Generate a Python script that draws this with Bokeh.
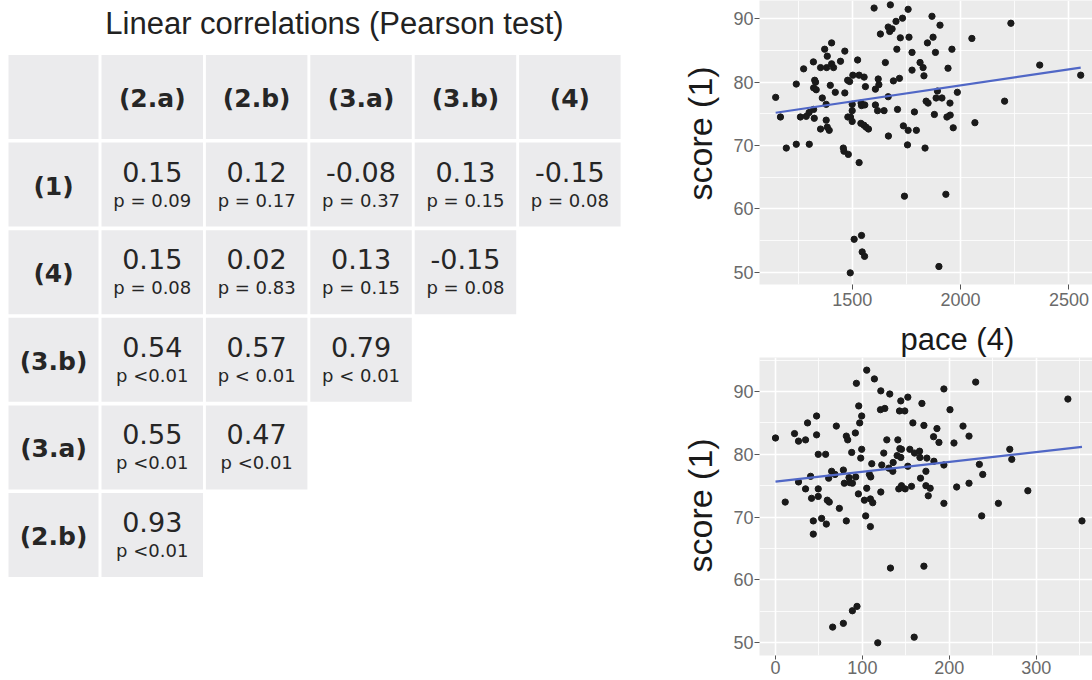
import numpy as np
from bokeh.plotting import figure
from bokeh.layouts import row, column
from bokeh.models import Range1d, FixedTicker, Title
from bokeh.core.properties import value
from bokeh.embed import file_html
from bokeh.resources import INLINE

# ---------------- data ----------------
table_title = "Linear correlations (Pearson test)"
col_labels = ["(2.a)", "(2.b)", "(3.a)", "(3.b)", "(4)"]
row_labels = ["(1)", "(4)", "(3.b)", "(3.a)", "(2.b)"]

r_row1 = [0.15, 0.12, -0.08, 0.13, -0.15]
r_row2 = [0.15, 0.02, 0.13, -0.15]
r_row3 = [0.54, 0.57, 0.79]
r_row4 = [0.55, 0.47]
r_row5 = [0.93]

p_row1 = ["p = 0.09", "p = 0.17", "p = 0.37", "p = 0.15", "p = 0.08"]
p_row2 = ["p = 0.08", "p = 0.83", "p = 0.15", "p = 0.08"]
p_row3 = ["p <0.01", "p < 0.01", "p < 0.01"]
p_row4 = ["p <0.01", "p <0.01"]
p_row5 = ["p <0.01"]

top_x = [1147, 1169, 1196, 1242, 1242, 1261, 1276, 1288, 1301, 1302,
         1321, 1322, 1325, 1327, 1331, 1322, 1334, 1354, 1354, 1362,
         1373, 1380, 1382, 1380, 1385, 1385, 1394, 1399, 1405, 1405,
         1414, 1422, 1446, 1459, 1462, 1466, 1466, 1479, 1480, 1488,
         1482, 1492, 1500, 1500, 1500, 1503, 1509, 1491, 1525, 1532,
         1532, 1541, 1543, 1543, 1546, 1555, 1557, 1558, 1561, 1540,
         1554, 1564, 1575, 1601, 1607, 1607, 1617, 1620, 1623, 1630,
         1647, 1653, 1666, 1667, 1666, 1673, 1676, 1684, 1690, 1702,
         1706, 1709, 1718, 1722, 1732, 1736, 1741, 1755, 1758, 1758,
         1762, 1776, 1776, 1787, 1796, 1813, 1827, 1831, 1836, 1841,
         1847, 1850, 1868, 1905, 1873, 1884, 1960, 1942, 2052, 2232,
         2365, 2554, 1893, 1887, 1914, 1951, 1985, 2203, 1879, 1937,
         1952, 1966, 2066, 1932, 1900]
top_y = [77.6, 74.5, 69.6, 79.7, 70.2, 74.5, 82.1, 74.6, 75.2, 70.2,
         83.2, 75.7, 74.3, 80.3, 80.0, 79.1, 78.8, 82.3, 72.6, 77.5,
         85.2, 74.0, 82.3, 76.5, 84.1, 72.9, 72.4, 79.5, 86.2, 82.9,
         82.3, 78.4, 83.3, 69.6, 69.1, 84.9, 78.3, 80.3, 74.5, 80.1,
         68.6, 74.5, 73.8, 75.5, 76.5, 81.1, 55.2, 49.9, 83.5, 67.3,
         81.1, 76.7, 55.8, 76.3, 53.2, 80.8, 52.5, 76.4, 79.3, 73.5,
         73.2, 72.9, 72.6, 91.7, 78.9, 76.4, 75.5, 80.5, 79.6, 87.6,
         75.5, 83.1, 77.7, 71.5, 88.7, 88.0, 92.2, 88.4, 80.2, 89.6,
         85.2, 75.7, 80.6, 87.0, 90.1, 73.1, 62.0, 70.1, 72.4, 91.5,
         87.1, 84.7, 81.9, 75.3, 72.4, 83.1, 82.3, 81.0, 69.6, 77.0,
         86.2, 76.7, 90.4, 89.0, 87.1, 84.7, 85.2, 82.2, 86.9, 89.3,
         82.7, 81.1, 78.6, 77.5, 77.5, 76.7, 78.4, 77.0, 74.9, 74.5,
         74.8, 72.8, 73.6, 62.3, 50.9]

bot_x = [0, 11.2, 21.9, 26.5, 26.5, 34.6, 34.6, 36.9, 40.4, 41.5,
         43.5, 43.5, 47.3, 47.3, 49.2, 49.2, 49.2, 53.1, 57.7, 58.5,
         59.6, 61.2, 61.9, 64.6, 68.5, 70.0, 65.8, 73.5, 78.1, 79.2,
         81.5, 83.1, 81.5, 78.1, 84.6, 85.4, 87.7, 88.5, 88.5, 92.3,
         91.9, 93.1, 93.8, 95.8, 96.9, 98.1, 99.2, 99.2, 95.4, 102.3,
         103.8, 105, 105, 109.2, 109.2, 109.6, 108.1, 110.8, 111.9, 113.8,
         117.7, 121.2, 120.8, 122.3, 121.2, 124.6, 125.8, 128.1, 131.5, 132.3,
         130.4, 135, 135.4, 140, 140.8, 141.9, 142.7, 143.1, 144.2, 144.2,
         145, 145, 148.8, 149.2, 152.3, 152.3, 154.6, 156.5, 158.1, 159.6,
         160, 165.8, 166.2, 166.9, 168.5, 170.8, 170.8, 173.1, 173.1, 174.2,
         175.8, 178.0, 185.8, 181.9, 188.1, 182.3, 193.8, 200.8, 193.8, 205.4,
         215.8, 222.7, 230.4, 193.8, 208.5, 222.7, 234.6, 238.5, 237.3, 256.5,
         269.6, 271.9, 290.4, 336.5, 352.7]
bot_y = [82.6, 72.4, 83.3, 82.1, 75.6, 82.3, 74.5, 85.0, 76.5, 73.0,
         69.4, 67.3, 86.1, 83.1, 80.0, 74.5, 73.3, 69.8, 80.0, 68.9,
         72.7, 76.2, 72.4, 77.3, 76.8, 84.5, 52.5, 71.4, 77.5, 75.4,
         82.9, 82.3, 69.4, 53.1, 76.3, 75.5, 80.3, 75.4, 55.1, 76.4,
         83.4, 91.3, 55.8, 87.7, 85.0, 79.4, 86.1, 80.8, 73.7, 72.7,
         70.2, 74.6, 93.4, 72.9, 68.5, 76.4, 76.8, 78.5, 72.3, 92.0,
         50.0, 90.1, 87.1, 78.3, 74.0, 80.2, 87.3, 82.3, 89.6, 61.9,
         77.8, 77.3, 78.7, 79.8, 82.3, 74.5, 86.9, 80.9, 88.5, 79.5,
         80.8, 75.0, 86.9, 74.5, 89.1, 78.1, 80.8, 74.9, 85.0, 50.9,
         80.2, 80.5, 79.5, 76.2, 88.1, 84.6, 62.2, 77.3, 75.0, 79.4,
         73.4, 74.6, 84.1, 82.8, 81.9, 78.9, 90.4, 87.1, 78.3, 81.8,
         84.5, 82.9, 91.5, 72.2, 74.8, 75.4, 78.4, 76.8, 70.2, 72.2,
         80.8, 79.2, 74.2, 88.8, 69.4]

y_ticks = [50, 60, 70, 80, 90]
y_minor = [45, 55, 65, 75, 85, 95]
top_x_ticks = [1500, 2000, 2500]
top_x_minor = [1250, 1750, 2250]
bot_x_ticks = [0, 100, 200, 300]
bot_x_minor = [50, 150, 250, 350]

x_title = "pace (4)"
y_title = "score (1)"

# ---------------- table ----------------
W, H = 1092, 680
TW = 660
t = figure(width=TW, height=H, x_range=Range1d(0, TW), y_range=Range1d(H, 0),
           output_backend="svg", toolbar_location=None, x_axis_type=None,
           y_axis_type=None, min_border=0, outline_line_color=None, title=None)
t.grid.visible = False

CELL = "#EBEBED"
TXT = "#262626"
col0 = (8, 98)
cell_left = [101 + k * 104.4 for k in range(5)]
cell_w = 101.5
row_top = [54.5 + r * 87.6 for r in range(6)]
cell_h = 84

r_rows = [r_row1, r_row2, r_row3, r_row4, r_row5]
p_rows = [p_row1, p_row2, p_row3, p_row4, p_row5]

L, R, T, B = [], [], [], []
def add_cell(l, r, tp):
    L.append(l); R.append(r); T.append(tp); B.append(tp + cell_h)

add_cell(col0[0], col0[1], row_top[0])
for k in range(len(col_labels)):
    add_cell(cell_left[k], cell_left[k] + cell_w, row_top[0])
for i, vals in enumerate(r_rows):
    add_cell(col0[0], col0[1], row_top[i + 1])
    for k in range(len(vals)):
        add_cell(cell_left[k], cell_left[k] + cell_w, row_top[i + 1])
t.quad(left=L, right=R, top=T, bottom=B, fill_color=CELL, line_color=None)

hx, hy, htxt = [], [], []
for k, lab in enumerate(col_labels):
    hx.append(cell_left[k] + cell_w / 2); hy.append(row_top[0] + cell_h / 2 + 1.5); htxt.append(lab)
for i, lab in enumerate(row_labels):
    hx.append((col0[0] + col0[1]) / 2); hy.append(row_top[i + 1] + cell_h / 2 + 1.5); htxt.append(lab)
t.text(x=hx, y=hy, text=htxt, text_font=value("DejaVu Sans"), text_font_style="bold",
       text_font_size="25px", text_align="center", text_baseline="alphabetic", text_color=TXT)

vx, vy, vtxt, px_, py_, ptxt = [], [], [], [], [], []
for i, vals in enumerate(r_rows):
    cy = row_top[i + 1] + cell_h / 2
    for k, v in enumerate(vals):
        cx = cell_left[k] + cell_w / 2
        vx.append(cx); vy.append(cy - 13); vtxt.append(f"{v:.2f}")
        px_.append(cx); py_.append(cy + 15.5); ptxt.append(p_rows[i][k])
t.text(x=vx, y=vy, text=vtxt, text_font=value("DejaVu Sans"), text_font_size="27px",
       text_align="center", text_baseline="alphabetic", text_color=TXT)
t.text(x=px_, y=py_, text=ptxt, text_font=value("DejaVu Sans"), text_font_size="18px",
       text_align="center", text_baseline="alphabetic", text_color=TXT)

t.text(x=[334], y=[23.3], text=[table_title], text_font=value("Liberation Sans"),
       text_font_size="31px", text_align="center", text_baseline="alphabetic", text_color="#222222")

# ---------------- scatter panels ----------------
PW = W - TW

def style(p, xt, xm):
    p.background_fill_color = "#EBEBEB"
    p.border_fill_color = "white"
    p.outline_line_color = None
    p.xaxis.ticker = FixedTicker(ticks=xt, minor_ticks=xm)
    p.yaxis.ticker = FixedTicker(ticks=y_ticks, minor_ticks=y_minor)
    for g in (p.xgrid, p.ygrid):
        g.grid_line_color = "white"
        g.grid_line_width = 1.6
        g.minor_grid_line_color = "white"
        g.minor_grid_line_width = 0.8
    for a in (p.xaxis, p.yaxis):
        a.axis_line_color = None
        a.major_tick_line_color = "#555555"
        a.major_tick_in = 0
        a.major_tick_out = 5
        a.minor_tick_line_color = None
        a.major_label_text_font = "Liberation Sans"
        a.major_label_text_font_size = "18px"
        a.major_label_text_color = "#6a6a6a"
    p.yaxis.major_label_standoff = 1
    p.xaxis.major_label_standoff = 3

def add_fit(p, xs, ys):
    xs = np.asarray(xs, float); ys = np.asarray(ys, float)
    b, a = np.polyfit(xs, ys, 1)
    xl = np.array([xs.min(), xs.max()])
    p.line(xl, a + b * xl, line_color="#5067C6", line_width=2.2)

def ylab(p, offset):
    tt = Title(text=y_title, align="left", offset=offset, text_font="Liberation Sans",
               text_font_size="34px", text_font_style="normal", text_color="#1a1a1a", standoff=24)
    p.add_layout(tt, "left")

H1 = 318
p1 = figure(width=PW, height=H1, x_range=Range1d(1072.4, 2608.4), y_range=Range1d(48.06, 92.89),
            output_backend="svg", toolbar_location=None, title=None,
            min_border_left=99, min_border_right=0, min_border_top=0, min_border_bottom=34)
style(p1, top_x_ticks, top_x_minor)
p1.scatter(top_x, top_y, size=6.3, color="#1a1a1a")
add_fit(p1, top_x, top_y)
ylab(p1, 84)

H2 = H - H1
p2 = figure(width=PW, height=H2, x_range=Range1d(-18.4, 364.8), y_range=Range1d(47.98, 95.41),
            output_backend="svg", toolbar_location=None, title=x_title,
            min_border_left=99, min_border_right=0, min_border_top=39, min_border_bottom=25)
p2.title.align = "left"
p2.title.offset = 141
p2.title.standoff = 2
p2.title.text_font = "Liberation Sans"
p2.title.text_font_size = "31px"
p2.title.text_font_style = "normal"
p2.title.text_color = "#1a1a1a"
style(p2, bot_x_ticks, bot_x_minor)
p2.xaxis.major_tick_out = 4
p2.xaxis.major_label_standoff = 1
p2.scatter(bot_x, bot_y, size=6.3, color="#1a1a1a")
add_fit(p2, bot_x, bot_y)
ylab(p2, 83)

layout = row(t, column(p1, p2))
open("out.html", "w").write(file_html(layout, INLINE))
